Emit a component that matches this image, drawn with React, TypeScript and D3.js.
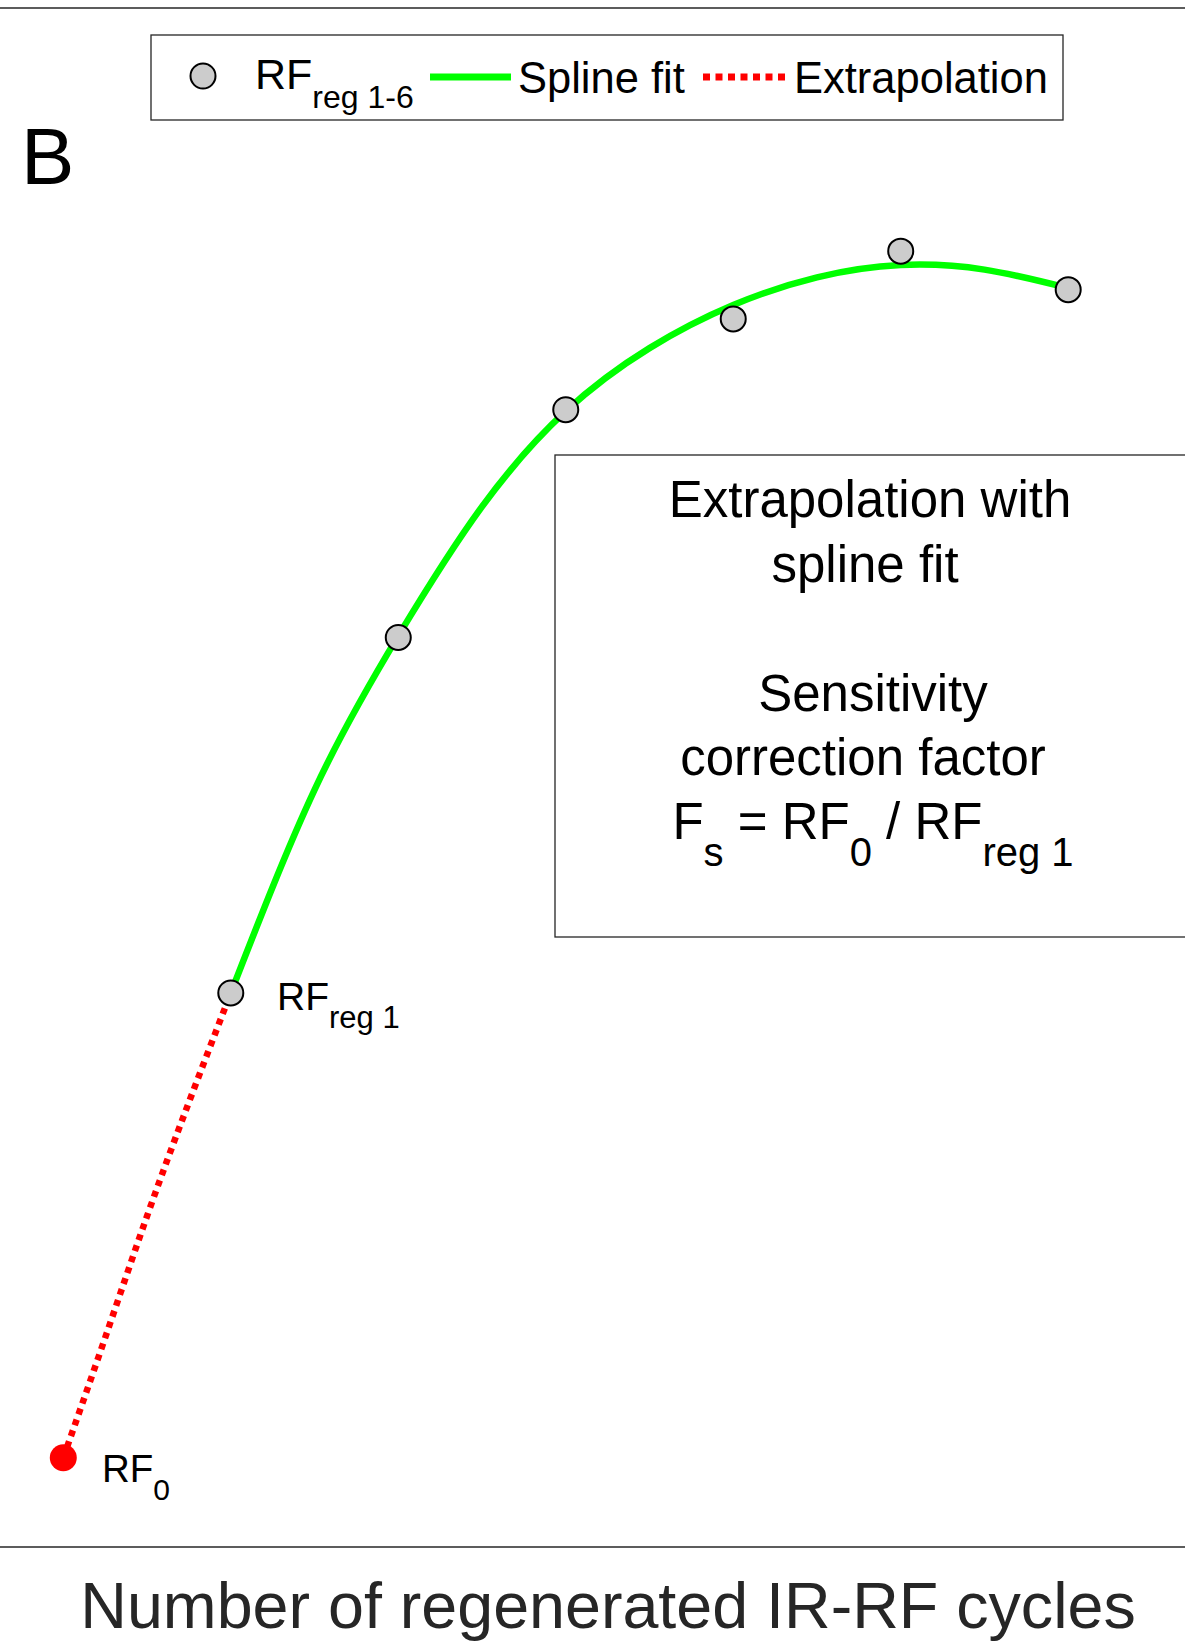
import React from "react";
import * as d3 from "d3";

// ---- data (arbitrary relative response units) ----
const regCycles = [1, 2, 3, 4, 5, 6];
const rfRegValues = [0.36, 0.591, 0.739, 0.798, 0.842, 0.817];
const rf0Cycle = 0;
const rf0Value = 0.058;
const splineCycles = [1, 1.5, 2, 2.5, 3, 3.5, 4, 4.5, 5, 5.5, 6];
const splineValues = [0.36, 0.492, 0.592, 0.676, 0.738, 0.779, 0.807, 0.825, 0.833, 0.83, 0.818];
const extrapCycles = [0, 0.25, 0.5, 0.75, 1];
const extrapValues = [0.058, 0.136, 0.215, 0.289, 0.36];

const W = 1185;
const H = 1647;
const FONT = "'Liberation Sans', Arial, Helvetica, sans-serif";
const AXIS_COLOR = "#262626";
const GREEN = "#00ff00";
const RED = "#ff0000";
const MARKER_FILL = "#cccccc";

export default function App() {
  const x = d3.scaleLinear().domain([0, 6]).range([63.3, 1068.2]);
  const y = d3.scaleLinear().domain([0, 1]).range([1547, 8]);

  const spline = splineCycles.map((c, i) => [c, splineValues[i]] as [number, number]);
  const extrap = extrapCycles.map((c, i) => [c, extrapValues[i]] as [number, number]);

  const line = d3
    .line<[number, number]>()
    .x((d) => x(d[0]))
    .y((d) => y(d[1]))
    .curve(d3.curveNatural);

  return (
    <div style={{ position: "absolute", left: 0, top: 0, width: W, height: H, background: "#fff" }}>
      <svg width={W} height={H} style={{ display: "block", fontFamily: FONT }}>
        <rect x={0} y={0} width={W} height={H} fill="#fff" />
        {/* axes lines (top and bottom of plot box) */}
        <line x1={0} x2={W} y1={y(1)} y2={y(1)} stroke={AXIS_COLOR} strokeWidth={1.5} />
        <line x1={0} x2={W} y1={y(0)} y2={y(0)} stroke={AXIS_COLOR} strokeWidth={1.5} />

        {/* spline fit */}
        <path d={line(spline) || ""} fill="none" stroke={GREEN} strokeWidth={6.5} />
        {/* extrapolation */}
        <path
          d={line(extrap) || ""}
          fill="none"
          stroke={RED}
          strokeWidth={6.5}
          strokeDasharray="6 5.5"
        />

        {/* RF reg points */}
        {regCycles.map((c, i) => (
          <circle
            key={c}
            cx={x(c)}
            cy={y(rfRegValues[i])}
            r={12.5}
            fill={MARKER_FILL}
            stroke="#000"
            strokeWidth={2}
          />
        ))}
        {/* RF0 */}
        <circle cx={x(rf0Cycle)} cy={y(rf0Value)} r={13.5} fill={RED} />

        {/* point labels */}
        <text x={277} y={1010} fontSize={39} fill="#000" style={{ whiteSpace: "pre" }}>
          RF
          <tspan dy={18} fontSize={31}>reg 1</tspan>
        </text>
        <text x={102} y={1482} fontSize={38.5} fill="#000">
          RF
          <tspan dy={18} fontSize={30}>0</tspan>
        </text>

        {/* annotation box */}
        <rect x={555} y={455} width={700} height={482} fill="none" stroke={AXIS_COLOR} strokeWidth={1.3} />
        <g fontSize={51} fill="#000" textAnchor="middle" style={{ whiteSpace: "pre" }}>
          <text x={870} y={517}>Extrapolation with</text>
          <text x={865} y={582}>spline fit</text>
          <text x={873} y={711}>Sensitivity</text>
          <text x={863} y={775}>correction factor</text>
          <text x={873} y={839}>
            F<tspan dy={27} fontSize={40}>s</tspan>
            <tspan dy={-27}> = RF</tspan>
            <tspan dy={27} fontSize={40}>0</tspan>
            <tspan dy={-27}> / RF</tspan>
            <tspan dy={27} fontSize={40}>reg 1</tspan>
          </text>
        </g>

        {/* legend */}
        <rect x={151} y={35} width={912} height={85} fill="#fff" stroke={AXIS_COLOR} strokeWidth={1.3} />
        <circle cx={203} cy={76} r={12.5} fill={MARKER_FILL} stroke="#000" strokeWidth={2} />
        <text x={255} y={89} fontSize={43} fill="#000" style={{ whiteSpace: "pre" }}>
          RF
          <tspan dy={19} fontSize={32}>reg 1-6</tspan>
        </text>
        <line x1={430} x2={511} y1={77} y2={77} stroke={GREEN} strokeWidth={7} />
        <text x={518} y={93} fontSize={43.5} fill="#000">Spline fit</text>
        <line x1={703} x2={786} y1={77} y2={77} stroke={RED} strokeWidth={7} strokeDasharray="7 5.5" />
        <text x={794} y={93} fontSize={43.5} fill="#000">Extrapolation</text>

        {/* panel letter */}
        <text x={21} y={184} fontSize={80} fill="#000">B</text>

        {/* x axis title */}
        <text x={608} y={1628} fontSize={64.6} fill={AXIS_COLOR} textAnchor="middle">
          Number of regenerated IR-RF cycles
        </text>
      </svg>
    </div>
  );
}
